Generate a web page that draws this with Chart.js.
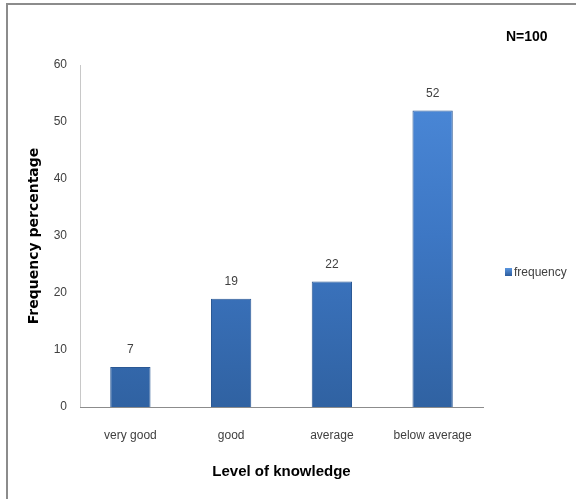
<!DOCTYPE html>
<html>
<head>
<meta charset="utf-8">
<script src="https://cdn.jsdelivr.net/npm/chart.js@4"></script>
<style>
  html, body { margin: 0; padding: 0; background: #fff; overflow: hidden; }
  #wrap { position: relative; width: 576px; height: 499px; }
  #frame { position: absolute; left: 6px; top: 3px; width: 620px; height: 600px; border: 2px solid #8c8c8c; }
  canvas { position: absolute; left: 0; top: 0; }
</style>
</head>
<body>
<div id="wrap">
  <div id="frame"></div>
  <canvas id="chart" width="576" height="499"></canvas>
</div>
<script>
// dados
const categorias = ["very good", "good", "average", "below average"];
const frequencia = [7, 19, 22, 52];
const yTicks = [0, 10, 20, 30, 40, 50, 60];
const serieNome = "frequency";
const tituloN = "N=100";

const fonteNarrow = "'Liberation Sans Narrow', 'Liberation Sans', sans-serif";

// gradiente das barras
function barGradient(ctx) {
  const area = ctx.chart.chartArea;
  if (!area) return '#3a72bd';
  const g = ctx.chart.ctx.createLinearGradient(0, area.top, 0, area.bottom);
  g.addColorStop(0, '#4d8bdb');
  g.addColorStop(0.5, '#3d77c4');
  g.addColorStop(1, '#3062a2');
  return g;
}

// rótulos acima das barras, título N=100 e legenda
const extras = {
  id: 'extras',
  afterDatasetsDraw(chart) {
    const c = chart.ctx;
    const meta = chart.getDatasetMeta(0);
    c.save();
    c.fillStyle = '#404040';
    c.font = "12px " + fonteNarrow;
    c.textAlign = 'center';
    c.textBaseline = 'middle';
    meta.data.forEach((bar, i) => {
      c.fillText(String(frequencia[i]), bar.x, bar.y - 17);
    });

    c.font = "bold 14px " + fonteNarrow;
    c.fillStyle = '#000';
    c.textAlign = 'left';
    c.fillText(tituloN, 506, 37);

    // legenda
    const lg = c.createLinearGradient(0, 268, 0, 276);
    lg.addColorStop(0, '#5a96e0');
    lg.addColorStop(1, '#2c5c9c');
    c.fillStyle = lg;
    c.fillRect(505, 268, 7, 8);
    c.fillStyle = '#404040';
    c.font = "12px " + fonteNarrow;
    c.fillText(serieNome, 514, 273);
    c.restore();
  }
};

const ctx = document.getElementById('chart').getContext('2d');
new Chart(ctx, {
  type: 'bar',
  data: {
    labels: categorias,
    datasets: [{
      label: serieNome,
      data: frequencia,
      backgroundColor: barGradient,
      borderColor: '#2b5894',
      borderWidth: 1,
      categoryPercentage: 1,
      barPercentage: 0.4
    }]
  },
  options: {
    responsive: false,
    animation: false,
    layout: { padding: { top: 65, right: 93, bottom: 0, left: 0 } },
    scales: {
      y: {
        min: 0,
        max: 60,
        afterBuildTicks(scale) { scale.ticks = yTicks.map(v => ({ value: v })); },
        afterFit(scale) { scale.width = 80; },
        grid: { display: false, drawTicks: false },
        border: { display: true, color: '#c8c8c8', width: 1 },
        ticks: {
          padding: 13,
          color: '#404040',
          font: { family: fonteNarrow, size: 12 }
        },
        title: {
          display: true,
          text: 'Frequency percentage',
          color: '#000',
          font: { family: 'DejaVu Sans', size: 14, weight: 'bold' },
          padding: { top: 26, bottom: 0 }
        }
      },
      x: {
        afterFit(scale) { scale.height = 92; },
        grid: { display: false, drawTicks: false },
        border: { display: true, color: '#8c8c8c', width: 1 },
        ticks: {
          padding: 21,
          color: '#404040',
          font: { family: fonteNarrow, size: 12 }
        },
        title: {
          display: true,
          text: 'Level of knowledge',
          color: '#000',
          font: { family: fonteNarrow, size: 15, weight: 'bold' },
          padding: { top: 0, bottom: 18 }
        }
      }
    },
    plugins: {
      legend: { display: false },
      tooltip: { enabled: false }
    }
  },
  plugins: [extras]
});
</script>
</body>
</html>
